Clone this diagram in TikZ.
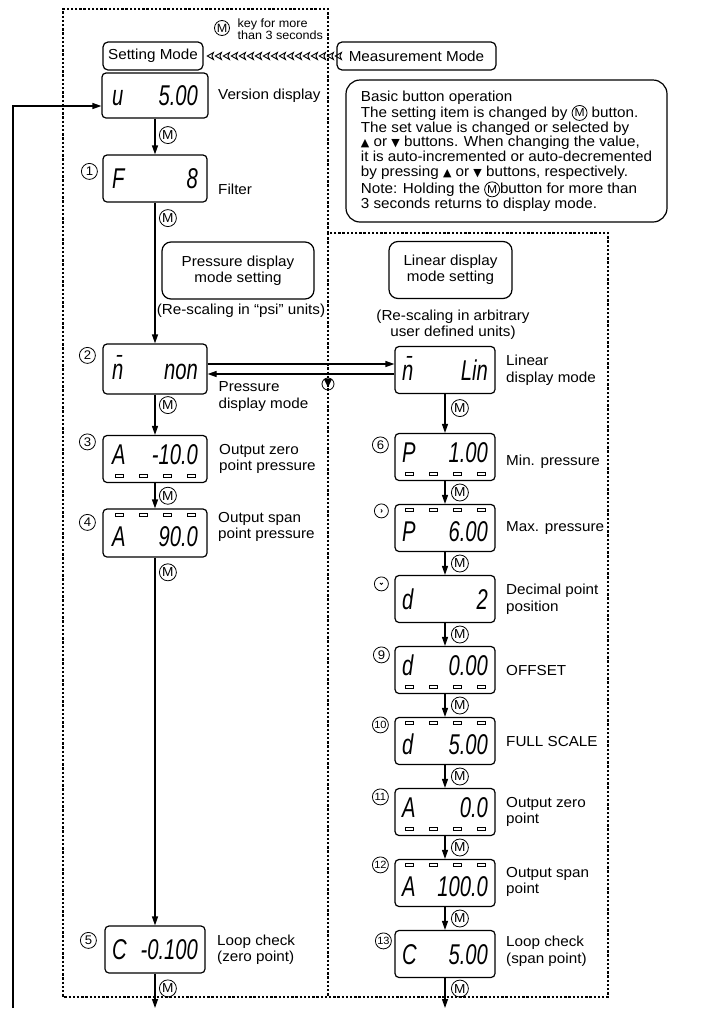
\documentclass[tikz,border=0pt]{standalone}
\usepackage{fontspec}
\usepackage{graphicx}
\setmainfont{Liberation Sans}[FakeStretch=1.05]
\newfontfamily\segfont{Liberation Sans}[FakeStretch=0.92]
\newfontfamily\symfont{DejaVu Sans}
\usetikzlibrary{positioning,arrows.meta,decorations.markings}

% LCD text: left letter, right value, optional shift
\newcommand\lcd[3][0pt]{\raisebox{\dimexpr#1-10pt\relax}[0pt][0pt]{\makebox[86pt]{\segfont\itshape\fontsize{22}{22}\selectfont\scalebox{1}[1.3]{#2}\hfill\scalebox{1}[1.3]{#3}}}}
\newcommand\triup{{\symfont\fontsize{11}{11}\selectfont ▲}}
\newcommand\tridn{{\symfont\fontsize{11}{11}\selectfont ▼}}
\newcommand\mbtn{\tikz[baseline=-4.3pt]\node[circle, draw, line width=0.8pt, inner sep=0pt, minimum size=15pt, font=\fontsize{11.5}{11.5}\selectfont] (mb) {M};}

\begin{document}
\begin{tikzpicture}[x=1pt, y=-1pt, line width=1.2pt, node distance=71pt,
        >={Triangle[length=9pt,width=6pt]},
        disp/.style = {draw, rounded corners=4pt, minimum width=104pt, minimum height=47pt, inner sep=0pt},
        rdisp/.style = {disp, minimum width=100pt},
        num/.style = {draw, circle, line width=0.8pt, inner sep=0pt, minimum size=16pt, font=\fontsize{12.5}{12.5}\selectfont},
        mkey/.style = {num, minimum size=17pt, font=\fontsize{13}{13}\selectfont},
        lbl/.style = {anchor=west, align=left, inner sep=0pt, font=\fontsize{14.5}{16.5}\selectfont},
        mode/.style = {draw, rounded corners=5pt, minimum height=28pt, inner xsep=5pt, font=\fontsize{14.5}{15}\selectfont},
        sub/.style = {draw, rounded corners=9pt, align=center, minimum height=57pt, font=\fontsize{14.5}{16}\selectfont},
        frame/.style = {line width=1.1pt, dash pattern=on 2.4pt off 1.8pt},
        led/.style = {line width=0.7pt}]
    \useasboundingbox (0,0) rectangle (702,1010);

    % Riquadri tratteggiati
    \draw[frame] (328,233) -- (328,9) -- (63,9) -- (63,997) -- (608,997) -- (608,233) -- cycle;
    \draw[frame] (328,233) -- (328,997);

    % Modi
    \node[mode, minimum width=100pt] (set) at (153,56) {Setting Mode};
    \node[mode, minimum width=159pt] (meas) at (416.5,56) {Measurement Mode};
    \path[postaction={decorate}, decoration={markings,
        mark=between positions 2pt and 1 step 8pt with {\arrow[line width=0.9pt]{Stealth[open,length=8pt,width=9pt,inset=2pt]}}}]
        (meas) -- (set);
    \node[mkey, minimum size=15pt, font=\fontsize{12}{12}\selectfont] (hm) at (222,28) {M};
    \node[anchor=west, align=left, inner sep=0pt, font=\fontsize{12}{12.5}\selectfont] (hold) at (237,29) {key for more\\than 3 seconds};

    % Nota
    \node[draw, rounded corners=14pt, minimum width=321pt, minimum height=142pt, align=left,
          font=\fontsize{14.5}{14.8}\selectfont] (note) at (506.5,151)
        {Basic button operation\\
         The setting item is changed by \mbtn{} button.\\
         The set value is changed or selected by\\
         \triup{} or \tridn{} buttons. When changing the value,\\
         it is auto-incremented or auto-decremented\\
         by pressing \triup{} or \tridn{} buttons, respectively.\\[1pt]
         Note: Holding the \mbtn{}button for more than\\
         3 seconds returns to display mode.};

    % Colonna sinistra
    \node[disp, minimum width=106pt, minimum height=45pt] (v) at (155,95.5) {\lcd{u}{5.00}};
    \node[lbl] (vt) [right=9pt of v] {Version display};
    \node[disp] (f1) [node distance=83pt, below of=v] {\lcd{F}{8}};
    \node[num] (n1) at ([shift={(-13,17)}]f1.north west) {1};
    \node[lbl] (ft) [right=10pt of f1, yshift=-11pt] {Filter};

    \node[sub, minimum width=152pt] (pset) at (238,270.5) {Pressure display\\mode setting};
    \node[font=\fontsize{14.5}{15}\selectfont] (pnote) at (241,311) {(Re-scaling in “psi” units)};
    \node[sub, minimum width=123pt] (lset) at (450.5,270) {Linear display\\mode setting};
    \node[align=center, font=\fontsize{14.5}{16}\selectfont] (lnote) at (453,325) {(Re-scaling in arbitrary\\user defined units)};

    \node[disp, minimum height=50pt] (d2) at (155,369) {\lcd{\={n}}{non}};
    \node[num] (n2) at ([shift={(-15,12)}]d2.north west) {2};
    \node[lbl, anchor=north west] (d2t) at (218,381) {Pressure\\display mode};

    \node[disp] (d3) [node distance=90pt, below of=d2] {\lcd[5pt]{A}{-10.0}};
    \node[num] (n3) at ([shift={(-15,7)}]d3.north west) {3};
    \node[lbl] (d3t) [right=11pt of d3] {Output zero\\point pressure};
    \foreach \dx in {-36,-12,12,36} \draw[led] ([xshift=\dx pt]d3.south) ++(-4,-8.5) rectangle ++(8,3);

    \node[disp, minimum height=48pt] (d4) [node distance=74pt, below of=d3] {\lcd[-3pt]{A}{90.0}};
    \node[num] (n4) at ([shift={(-15,14)}]d4.north west) {4};
    \node[lbl] (d4t) [right=10pt of d4, yshift=6pt] {Output span\\point pressure};
    \foreach \dx in {-36,-12,12,36} \draw[led] ([xshift=\dx pt]d4.north) ++(-4,4.5) rectangle ++(8,3);

    \node[disp, minimum width=100pt] (d5) at (155,949.5) {\lcd{C}{-0.100}};
    \node[num] (n5) at ([shift={(-16,15)}]d5.north west) {5};
    \node[lbl] (d5t) [right=11pt of d5] {Loop check\\(zero point)};

    % Colonna destra
    \node[rdisp] (lin) at (445,370) {\lcd{\={n}}{Lin}};
    \node[lbl] (lint) [right=10pt of lin] {Linear\\display mode};

    \node[rdisp] (d6) at (445,457) {\lcd[5pt]{P}{1.00}};
    \node[num] (n6) at ([shift={(-14,12)}]d6.north west) {6};
    \node[lbl] (d6t) [right=10pt of d6, yshift=-5pt] {Min. pressure};
    \foreach \dx in {-36,-12,12,36} \draw[led] ([xshift=\dx pt]d6.south) ++(-4,-8.5) rectangle ++(8,3);

    \node[rdisp] (d7) [below of=d6] {\lcd[-3pt]{P}{6.00}};
    \node[num, minimum size=14pt] (n7) at ([shift={(-13,7)}]d7.north west) {};
    \draw[line width=0.8pt] ([shift={(-0.5,-1.5)}]n7.center) -- ([shift={(0.8,0)}]n7.center) -- ([shift={(-0.5,1.5)}]n7.center);
    \node[lbl] (d7t) [right=10pt of d7] {Max. pressure};
    \foreach \dx in {-36,-12,12,36} \draw[led] ([xshift=\dx pt]d7.north) ++(-4,4.5) rectangle ++(8,3);

    \node[rdisp] (d8) [below of=d7] {\lcd{d}{2}};
    \node[num, minimum size=14pt] (n8) at ([shift={(-13,9)}]d8.north west) {};
    \draw[line width=0.8pt] ([shift={(-1.5,-1)}]n8.center) -- ([shift={(0,0.5)}]n8.center) -- ([shift={(1.5,-1)}]n8.center);
    \node[lbl] (d8t) [right=10pt of d8] {Decimal point\\position};

    \node[rdisp] (d9) [below of=d8] {\lcd[5pt]{d}{0.00}};
    \node[num] (n9) at ([shift={(-13,9)}]d9.north west) {9};
    \node[lbl] (d9t) [right=10pt of d9] {OFFSET};
    \foreach \dx in {-36,-12,12,36} \draw[led] ([xshift=\dx pt]d9.south) ++(-4,-8.5) rectangle ++(8,3);

    \node[rdisp] (d10) [below of=d9] {\lcd[-3pt]{d}{5.00}};
    \node[num, font=\fontsize{10.5}{10.5}\selectfont] (n10) at ([shift={(-14,8)}]d10.north west) {10};
    \node[lbl] (d10t) [right=10pt of d10] {FULL SCALE};
    \foreach \dx in {-36,-12,12,36} \draw[led] ([xshift=\dx pt]d10.north) ++(-4,4.5) rectangle ++(8,3);

    \node[rdisp] (d11) [below of=d10] {\lcd[5pt]{A}{0.0}};
    \node[num, font=\fontsize{10.5}{10.5}\selectfont] (n11) at ([shift={(-14,9)}]d11.north west) {11};
    \node[lbl] (d11t) [right=10pt of d11] {Output zero\\point};
    \foreach \dx in {-36,-12,12,36} \draw[led] ([xshift=\dx pt]d11.south) ++(-4,-8.5) rectangle ++(8,3);

    \node[rdisp] (d12) [below of=d11] {\lcd[-3pt]{A}{100.0}};
    \node[num, font=\fontsize{10.5}{10.5}\selectfont] (n12) at ([shift={(-14,6)}]d12.north west) {12};
    \node[lbl] (d12t) [right=10pt of d12, yshift=1pt] {Output span\\point};
    \foreach \dx in {-36,-12,12,36} \draw[led] ([xshift=\dx pt]d12.north) ++(-4,4.5) rectangle ++(8,3);

    \node[rdisp] (d13) [below of=d12] {\lcd{C}{5.00}};
    \node[num, font=\fontsize{10.5}{10.5}\selectfont] (n13) at ([shift={(-11,11)}]d13.north west) {13};
    \node[lbl] (d13t) [right=10pt of d13, yshift=3pt] {Loop check\\(span point)};

    % Frecce
    \draw[->] (v) -- (f1) node[mkey, pos=0.46, right=4pt] (m0) {M};
    \draw[->] (f1) -- (d2) node[mkey, pos=0.11, right=4pt] (m1) {M};
    \draw[->] (d2) -- (d3) node[mkey, pos=0.26, right=4pt] (m2) {M};
    \draw[->] (d3) -- (d4) node[mkey, midway, right=4pt] (m3) {M};
    \draw[->] (d4) -- (d5) node[mkey, pos=0.04, right=4pt] (m4) {M};
    \coordinate (e5) at (155,1008);
    \draw[->] (d5) -- (e5) node[mkey, pos=0.43, right=4pt] (m5) {M};

    \coordinate (a2) at ([yshift=5pt]d2.east);
    \coordinate (b2) at ([yshift=-5pt]d2.east);
    \draw[->] (a2) -- (a2 -| lin.west);
    \draw[->] (b2 -| lin.west) -- (b2);
    \node[num, minimum size=12pt] (dn) at (328,384) {\tridn};

    \draw[->] (lin) -- (d6) node[mkey, pos=0.36, right=6pt] (m6) {M};
    \draw[->] (d6) -- (d7) node[mkey, midway, right=6pt] (m7) {M};
    \draw[->] (d7) -- (d8) node[mkey, midway, right=6pt] (m8) {M};
    \draw[->] (d8) -- (d9) node[mkey, midway, right=6pt] (m9) {M};
    \draw[->] (d9) -- (d10) node[mkey, midway, right=6pt] (m10) {M};
    \draw[->] (d10) -- (d11) node[mkey, midway, right=6pt] (m11) {M};
    \draw[->] (d11) -- (d12) node[mkey, midway, right=6pt] (m12) {M};
    \draw[->] (d12) -- (d13) node[mkey, midway, right=6pt] (m13) {M};
    \coordinate (e13) at (445,1008);
    \draw[->] (d13) -- (e13) node[mkey, pos=0.35, right=6pt] (m14) {M};

    % Ritorno
    \coordinate (back) at (13,1008);
    \draw[->] (back) |- ([yshift=-10.5pt]v.west);
\end{tikzpicture}
\end{document}
